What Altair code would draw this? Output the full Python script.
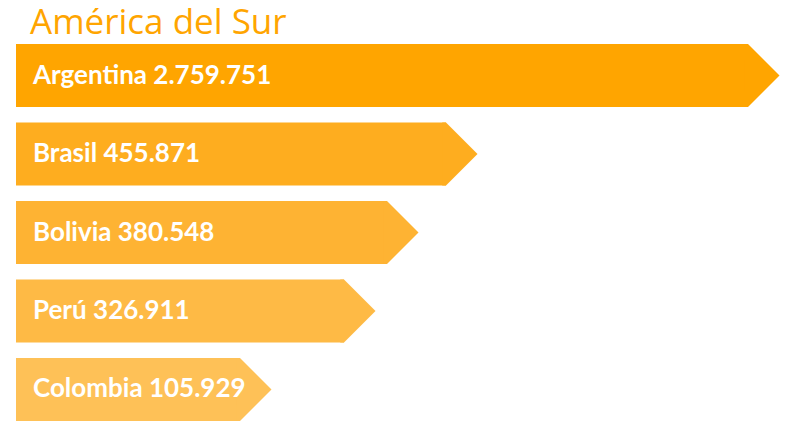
import altair as alt
import pandas as pd

paises = ["Argentina", "Brasil", "Bolivia", "Perú", "Colombia"]
valores = [2759751, 455871, 380548, 326911, 105929]
etiquetas_valor = ["2.759.751", "455.871", "380.548", "326.911", "105.929"]
colores = ["#FFA500", "#FEAD1F", "#FEB333", "#FEBA45", "#FEC157"]

df = pd.DataFrame({
    "pais": paises,
    "valor": valores,
    "etiqueta": [f"{p} {v}" for p, v in zip(paises, etiquetas_valor)],
    "cero": [0] * len(paises),
})

# piecewise scale (stylised bar lengths)
x_scale = alt.Scale(
    domain=[0, 105929, 326911, 380548, 455871, 2759751],
    range=[0, 224, 328, 371, 430, 732],
)
y_enc = alt.Y("pais:N", sort=paises, axis=None,
              scale=alt.Scale(paddingInner=0.197, paddingOuter=0))
color_enc = alt.Color("pais:N", sort=paises, legend=None,
                      scale=alt.Scale(domain=paises, range=colores))

base = alt.Chart(df)

body = base.mark_bar(cornerRadius=0).encode(
    x=alt.X("cero:Q", scale=x_scale, axis=None),
    x2="valor:Q",
    y=y_enc,
    color=color_enc,
)

tip = base.mark_point(
    shape="M-0.12,-1L0,-1L1,0L0,1L-0.12,1Z", size=3969, filled=True,
    opacity=1, strokeWidth=0,
).encode(
    x=alt.X("valor:Q", scale=x_scale, axis=None),
    y=y_enc,
    color=color_enc,
)

labels = base.mark_text(
    align="left", baseline="alphabetic", dx=17, dy=8,
    font="Lato", fontWeight="bold", fontSize=26, color="white",
).encode(
    x=alt.X("cero:Q", scale=x_scale, axis=None),
    y=y_enc,
    text="etiqueta:N",
)

chart = alt.layer(body, tip, labels).properties(
    width=764,
    height=377,
    background="white",
    autosize=alt.AutoSizeParams(type="none"),
    padding={"left": 8, "top": 36, "right": 0, "bottom": 0},
    title=alt.TitleParams(
        "América del Sur", anchor="start", font="Open Sans", fontSize=35,
        fontWeight="normal", color="#FFA500", dx=14, offset=3,
    ),
).configure_view(strokeWidth=0, stroke="transparent")

chart.save("out.html", embed_options={"renderer": "svg", "actions": False})
